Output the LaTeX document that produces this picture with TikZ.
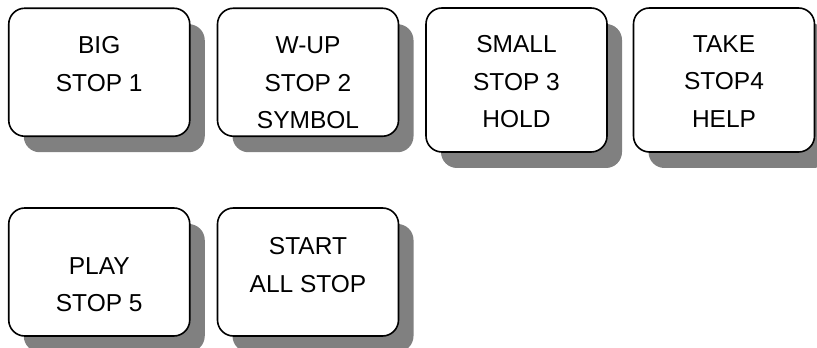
\documentclass[tikz,border=0pt]{standalone}
\usepackage{fontspec}
\setmainfont{Liberation Sans}
\usepackage{tikz}
\usetikzlibrary{positioning}
\usetikzlibrary{shadows}
\definecolor{keyshadow}{HTML}{808080}

\begin{document}
\begin{tikzpicture}[
    x=1pt, y=1pt,
    key/.style={draw, line width=1.6pt, rounded corners=16pt, fill=white,
        minimum width=181pt, minimum height=128pt, inner sep=0pt,
        drop shadow={shadow xshift=15pt, shadow yshift=-16pt, fill=keyshadow, opacity=1}},
    tall key/.style={key, minimum height=144pt},
    keytext/.style={align=center, inner sep=0pt,
        font=\fontsize{24.5}{37.5}\selectfont}
    ]
    \useasboundingbox (0,0) rectangle (817,348);

    % top row
    \node[key] (big) at (99.25,275.75) {};
    \node[key] (wup) at (308,275.75) {};
    \node[tall key] (small) at (516.5,268) {};
    \node[tall key] (take) at (724,268) {};
    % bottom row
    \node[key] (play) at (99.25,76) {};
    \node[key] (start) at (308,76) {};

    % texts
    \node[keytext, below=29pt of big.north] (big text) {BIG\\STOP 1};
    \node[keytext, below=29pt of wup.north] (wup text) {W-UP\\STOP 2\\SYMBOL};
    \node[keytext, below=28pt of small.north] (small text) {SMALL\\STOP 3\\HOLD};
    \node[keytext, below=28pt of take.north] (take text) {TAKE\\STOP4\\HELP};
    \node[keytext, below=50pt of play.north] (play text) {PLAY\\STOP 5};
    \node[keytext, below=30pt of start.north] (start text) {START\\ALL STOP};
\end{tikzpicture}
\end{document}
